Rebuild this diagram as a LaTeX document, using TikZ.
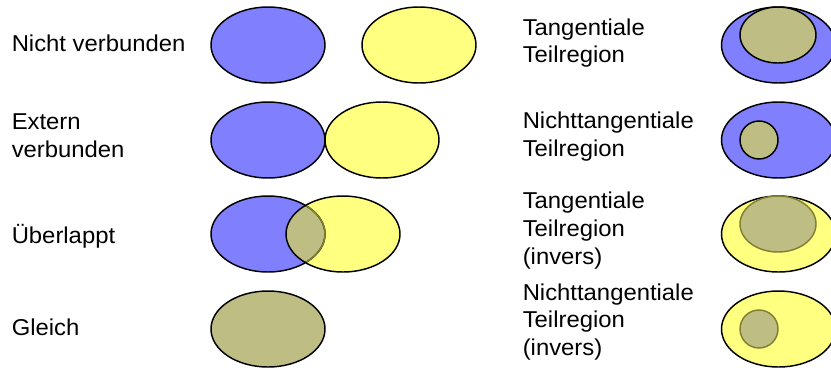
\documentclass[tikz,border=0pt]{standalone}
\usepackage{fontspec}
\setmainfont{Liberation Sans}[FakeStretch=1.04]
\usetikzlibrary{positioning}
\definecolor{regblue}{RGB}{128,128,255}
\definecolor{regyellow}{RGB}{255,255,128}
\definecolor{regtan}{RGB}{190,190,132}
\definecolor{regolive}{RGB}{128,128,48}
\tikzset{lbl/.style={inner sep=0pt,align=left,font=\fontsize{17.2}{20.8}\selectfont}}
\tikzset{rim/.style={draw=black,line width=1.1pt}}
\tikzset{innerrim/.style={draw=regolive,line width=1.1pt}}

\begin{document}
\begin{tikzpicture}[x=0.75pt,y=-0.75pt]
                \useasboundingbox (0,0) rectangle (831,369);
                % labels
                \node[lbl,anchor=base west] (disjoint) at (11.5,51) {Nicht verbunden};
                \node[lbl,anchor=north west] (meet) at (11.5,113.3) {Extern\\verbunden};
                \node[lbl,anchor=base west] (overlap) at (11.5,243) {Überlappt};
                \node[lbl,anchor=base west] (equal) at (11.5,335.5) {Gleich};
                \node[lbl,anchor=north west] (tpp) at (522.5,18.3) {Tangentiale\\Teilregion};
                \node[lbl,anchor=north west] (ntpp) at (522.5,111.7) {Nichttangentiale\\Teilregion};
                \node[lbl,anchor=north west] (tppi) at (522.5,191.7) {Tangentiale\\Teilregion\\(invers)};
                \node[lbl,anchor=north west] (ntppi) at (522.5,283.3) {Nichttangentiale\\Teilregion\\(invers)};
                % nicht verbunden
                \draw[rim,fill=regblue] (268,45) ellipse [x radius=57,y radius=38];
                \draw[rim,fill=regyellow] (419,45) ellipse [x radius=57,y radius=38];
                % extern verbunden
                \draw[rim,fill=regblue] (268,140) ellipse [x radius=57,y radius=38];
                \draw[rim,fill=regyellow] (382,140) ellipse [x radius=57,y radius=38];
                % ueberlappt
                \fill[regblue] (268,234) ellipse [x radius=57,y radius=38];
                \fill[regyellow] (343,234) ellipse [x radius=57,y radius=38];
                \begin{scope}
                        \clip (268,234) ellipse [x radius=57,y radius=38];
                        \fill[regtan] (343,234) ellipse [x radius=57,y radius=38];
                \end{scope}
                \draw[rim] (268,234) ellipse [x radius=57,y radius=38];
                \begin{scope}
                        \clip (343,234) ellipse [x radius=57,y radius=38];
                        \draw[innerrim] (268,234) ellipse [x radius=57,y radius=38];
                \end{scope}
                \draw[rim] (343,234) ellipse [x radius=57,y radius=38];
                % gleich
                \draw[rim,fill=regtan] (268,329) ellipse [x radius=57,y radius=38];
                % teilregionen
                \draw[rim,fill=regblue] (778.5,45) ellipse [x radius=57,y radius=38];
                \draw[rim,fill=regtan] (778,35) ellipse [x radius=38,y radius=28];
                \draw[rim,fill=regblue] (778.5,140) ellipse [x radius=57,y radius=38];
                \draw[rim,fill=regtan] (759,140) circle [radius=19];
                \draw[rim,fill=regyellow] (778.5,234) ellipse [x radius=57,y radius=38];
                \draw[innerrim,fill=regtan] (778,224) ellipse [x radius=38,y radius=28];
                \draw[rim,fill=regyellow] (778.5,329) ellipse [x radius=57,y radius=38];
                \draw[innerrim,fill=regtan] (759,329) circle [radius=19];
\end{tikzpicture}
\end{document}
